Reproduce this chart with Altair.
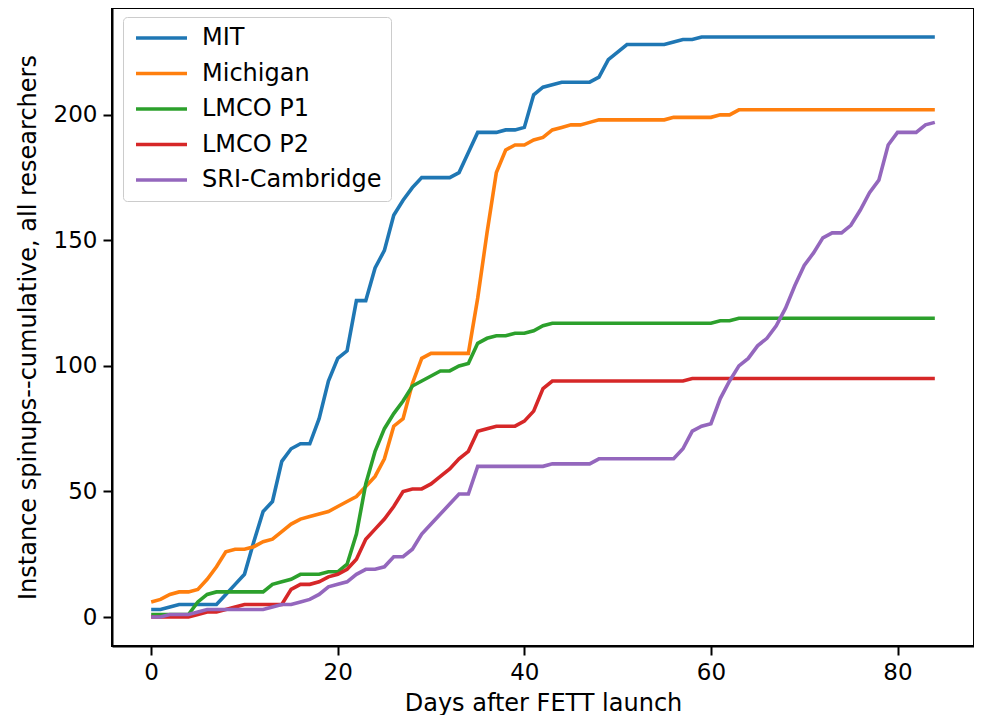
import altair as alt
import pandas as pd

days = list(range(0, 85))

series_names = ["MIT", "Michigan", "LMCO P1", "LMCO P2", "SRI-Cambridge"]
series_colors = ["#1f77b4", "#ff7f0e", "#2ca02c", "#d62728", "#9467bd"]

mit = [3, 3, 4, 5, 5, 5, 5, 5, 9, 13, 17, 30, 42, 46, 62, 67, 69, 69, 79, 94,
       103, 106, 126, 126, 139, 146, 160, 166, 171, 175, 175, 175, 175, 177, 185, 193, 193, 193, 194, 194,
       195, 208, 211, 212, 213, 213, 213, 213, 215, 222, 225, 228, 228, 228, 228, 228, 229, 230, 230, 231,
       231, 231, 231, 231, 231, 231, 231, 231, 231, 231, 231, 231, 231, 231, 231, 231, 231, 231, 231, 231,
       231, 231, 231, 231, 231]

michigan = [6, 7, 9, 10, 10, 11, 15, 20, 26, 27, 27, 28, 30, 31, 34, 37, 39, 40, 41, 42,
            44, 46, 48, 52, 56, 63, 76, 79, 93, 103, 105, 105, 105, 105, 105, 127, 153, 177, 186, 188,
            188, 190, 191, 194, 195, 196, 196, 197, 198, 198, 198, 198, 198, 198, 198, 198, 199, 199, 199, 199,
            199, 200, 200, 202, 202, 202, 202, 202, 202, 202, 202, 202, 202, 202, 202, 202, 202, 202, 202, 202,
            202, 202, 202, 202, 202]

lmco_p1 = [1, 1, 1, 1, 1, 6, 9, 10, 10, 10, 10, 10, 10, 13, 14, 15, 17, 17, 17, 18,
           18, 21, 33, 53, 66, 75, 81, 86, 92, 94, 96, 98, 98, 100, 101, 109, 111, 112, 112, 113,
           113, 114, 116, 117, 117, 117, 117, 117, 117, 117, 117, 117, 117, 117, 117, 117, 117, 117, 117, 117,
           117, 118, 118, 119, 119, 119, 119, 119, 119, 119, 119, 119, 119, 119, 119, 119, 119, 119, 119, 119,
           119, 119, 119, 119, 119]

lmco_p2 = [0, 0, 0, 0, 0, 1, 2, 2, 3, 4, 5, 5, 5, 5, 5, 11, 13, 13, 14, 16,
           17, 19, 23, 31, 35, 39, 44, 50, 51, 51, 53, 56, 59, 63, 66, 74, 75, 76, 76, 76,
           78, 82, 91, 94, 94, 94, 94, 94, 94, 94, 94, 94, 94, 94, 94, 94, 94, 94, 95, 95,
           95, 95, 95, 95, 95, 95, 95, 95, 95, 95, 95, 95, 95, 95, 95, 95, 95, 95, 95, 95,
           95, 95, 95, 95, 95]

sri = [0, 0, 1, 1, 1, 2, 3, 3, 3, 3, 3, 3, 3, 4, 5, 5, 6, 7, 9, 12,
       13, 14, 17, 19, 19, 20, 24, 24, 27, 33, 37, 41, 45, 49, 49, 60, 60, 60, 60, 60,
       60, 60, 60, 61, 61, 61, 61, 61, 63, 63, 63, 63, 63, 63, 63, 63, 63, 67, 74, 76,
       77, 87, 94, 100, 103, 108, 111, 116, 123, 132, 140, 145, 151, 153, 153, 156, 162, 169, 174, 188,
       193, 193, 193, 196, 197]

x_ticks = [0, 20, 40, 60, 80]
y_ticks = [0, 50, 100, 150, 200]

all_series = [mit, michigan, lmco_p1, lmco_p2, sri]
rows = []
for name, vals in zip(series_names, all_series):
    for d, v in zip(days, vals):
        rows.append({"day": d, "value": v, "series": name})
df = pd.DataFrame(rows)

FONT = "DejaVu Sans"

x_enc = alt.X("day:Q",
              scale=alt.Scale(domain=[-4.2, 88.2], nice=False, zero=False),
              axis=alt.Axis(values=x_ticks, title="Days after FETT launch", grid=False,
                            format="d", labelFlush=False))
y_enc = alt.Y("value:Q",
              scale=alt.Scale(domain=[-11.55, 242.55], nice=False, zero=False),
              axis=alt.Axis(values=y_ticks, title="Instance spinups--cumulative, all researchers",
                            grid=False, format="d", labelFlush=False))
color_enc = alt.Color("series:N", title=None,
                      scale=alt.Scale(domain=series_names, range=series_colors),
                      sort=series_names,
                      legend=alt.Legend(orient="none", legendX=11, legendY=9,
                                        symbolType="M-1,0L5.375,0", symbolSize=256,
                                        symbolStrokeWidth=3.6, labelFontSize=24,
                                        labelFont=FONT, labelColor="black", labelLimit=400,
                                        labelOffset=46, rowPadding=11.5,
                                        padding=9, fillColor="rgba(255,255,255,0.8)",
                                        strokeColor="#cccccc", cornerRadius=4))

layers = []
for name in series_names:
    layers.append(
        alt.Chart(df).transform_filter(alt.datum.series == name)
        .mark_line(strokeWidth=3.6)
        .encode(x=x_enc, y=y_enc, color=color_enc)
    )

chart = alt.layer(*layers).properties(
    width=862, height=638,
    padding={"left": 8, "top": 0, "right": 0, "bottom": 0},
).configure_view(
    stroke="black", strokeWidth=2
).configure_axis(
    domainColor="black", domainWidth=2, tickColor="black", tickWidth=2, tickSize=9,
    labelFont=FONT, labelFontSize=23, labelColor="black", labelPadding=6,
    titleFont=FONT, titleFontSize=24, titleFontWeight="normal", titleColor="black",
).configure_axisY(titlePadding=13).configure_axisX(titlePadding=7)

chart.save("out.html", embed_options={"renderer": "svg", "actions": False})
